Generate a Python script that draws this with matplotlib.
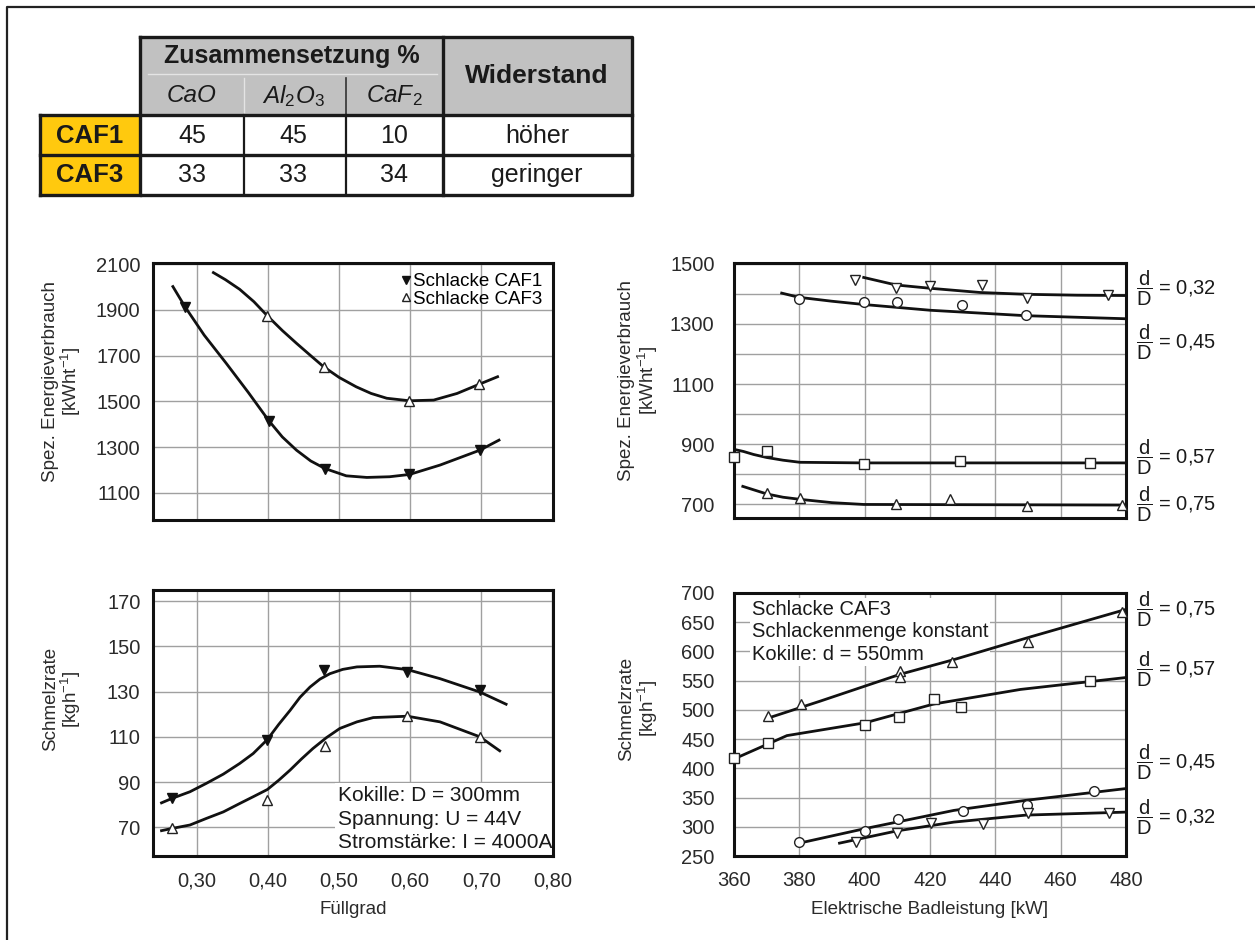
import matplotlib
matplotlib.use("Agg")
import matplotlib.pyplot as plt
import matplotlib.transforms as mtrans
from matplotlib.patches import Rectangle

plt.rcParams['font.family'] = ['Liberation Sans', 'DejaVu Sans']
plt.rcParams['mathtext.fontset'] = 'custom'
plt.rcParams['mathtext.rm'] = 'Liberation Sans'
plt.rcParams['mathtext.it'] = 'Liberation Sans:italic'
plt.rcParams['mathtext.bf'] = 'Liberation Sans:bold'

# ---------------- table data ----------------
table_group_header = "Zusammensetzung %"
table_sub_headers = ["CaO", r"Al$_2$O$_3$", r"CaF$_2$"]
table_last_header = "Widerstand"
table_rows = ["CAF1", "CAF3"]
table_CaO = [45, 33]
table_Al2O3 = [45, 33]
table_CaF2 = [10, 34]
table_widerstand = ["höher", "geringer"]

# ---------------- top-left: energy vs Füllgrad ----------------
tl_caf1_x = [0.283, 0.401, 0.480, 0.599, 0.698]
tl_caf1_y = [1914, 1416, 1207, 1181, 1287]
tl_caf3_x = [0.399, 0.478, 0.599, 0.697]
tl_caf3_y = [1874, 1652, 1503, 1575]
tl_caf1_curve_x = [0.266, 0.283, 0.310, 0.341, 0.372, 0.401, 0.420, 0.440, 0.460, 0.480, 0.510, 0.539, 0.571, 0.599, 0.642, 0.698, 0.725]
tl_caf1_curve_y = [2002, 1914, 1790, 1667, 1540, 1416, 1345, 1287, 1240, 1207, 1175, 1168, 1171, 1181, 1222, 1287, 1331]
tl_caf3_curve_x = [0.323, 0.340, 0.360, 0.380, 0.399, 0.420, 0.440, 0.460, 0.478, 0.500, 0.524, 0.545, 0.567, 0.599, 0.633, 0.666, 0.697, 0.723]
tl_caf3_curve_y = [2063, 2032, 1990, 1936, 1874, 1810, 1754, 1700, 1652, 1605, 1564, 1535, 1514, 1503, 1506, 1535, 1575, 1608]

# ---------------- bottom-left: melt rate vs Füllgrad ----------------
bl_caf1_x = [0.265, 0.399, 0.479, 0.596, 0.698]
bl_caf1_y = [82.8, 108.8, 139.7, 138.7, 130.9]
bl_caf3_x = [0.265, 0.399, 0.480, 0.596, 0.698]
bl_caf3_y = [69.5, 82.0, 105.8, 119.2, 110.0]
bl_caf1_curve_x = [0.250, 0.265, 0.290, 0.313, 0.337, 0.360, 0.379, 0.399, 0.415, 0.431, 0.445, 0.459, 0.473, 0.487, 0.505, 0.525, 0.557, 0.596, 0.642, 0.698, 0.735]
bl_caf1_curve_y = [80.8, 82.8, 85.7, 89.4, 93.5, 98.2, 102.6, 108.8, 115.5, 121.7, 127.5, 132.0, 135.5, 137.9, 139.8, 140.9, 141.2, 139.7, 135.7, 129.8, 124.4]
bl_caf3_curve_x = [0.250, 0.265, 0.290, 0.313, 0.337, 0.360, 0.379, 0.399, 0.415, 0.431, 0.447, 0.463, 0.482, 0.501, 0.525, 0.548, 0.596, 0.642, 0.698, 0.726]
bl_caf3_curve_y = [68.5, 69.5, 71.0, 73.9, 76.8, 80.5, 83.5, 86.7, 90.8, 95.3, 100.2, 104.8, 109.6, 113.7, 116.6, 118.5, 119.1, 116.6, 110.0, 103.8]

# ---------------- top-right: energy vs power, d/D series ----------------
tr_032_x = [397.1, 409.6, 420.1, 436.0, 449.6, 474.5]
tr_032_y = [1444, 1418, 1424, 1429, 1386, 1396]
tr_032_curve_x = [399.7, 409.6, 420.1, 435.4, 449.6, 465.0, 479.4]
tr_032_curve_y = [1454, 1429, 1418, 1404, 1398, 1395, 1394]
tr_045_x = [379.9, 399.9, 409.9, 429.8, 449.3]
tr_045_y = [1383, 1372, 1371, 1361, 1329]
tr_045_curve_x = [374.6, 379.9, 390.0, 399.9, 420.1, 449.3, 479.4]
tr_045_curve_y = [1402, 1388, 1375, 1364, 1345, 1327, 1317]
tr_057_x = [360.0, 370.0, 399.9, 429.3, 468.9]
tr_057_y = [859, 876, 836, 845, 839]
tr_057_curve_x = [360.0, 362.9, 366.0, 370.0, 375.0, 380.2, 399.9, 479.4]
tr_057_curve_y = [883, 876, 866, 856, 847, 840, 838, 838]
tr_075_x = [370.0, 380.2, 409.7, 426.1, 449.6, 478.9]
tr_075_y = [738, 722, 700, 717, 695, 698]
tr_075_curve_x = [362.7, 370.0, 375.0, 380.2, 390.0, 399.7, 479.4]
tr_075_curve_y = [760, 735, 724, 717, 706, 700, 698]

# ---------------- bottom-right: melt rate vs power, d/D series ----------------
br_075_x = [370.5, 380.5, 410.9, 410.9, 426.8, 450.0, 478.9]
br_075_y = [490, 510, 567, 556, 582, 617, 668]
br_075_curve_x = [371.0, 386.4, 410.9, 427.3, 450.8, 479.4]
br_075_curve_y = [487, 515, 561, 586, 625, 671]
br_057_x = [360.0, 370.3, 400.2, 410.6, 421.1, 429.5, 469.0]
br_057_y = [417, 443, 474, 487, 519, 505, 549]
br_057_curve_x = [360.0, 376.2, 400.2, 421.1, 447.7, 479.4]
br_057_curve_y = [416, 456, 478, 510, 535, 555]
br_045_x = [379.9, 400.2, 410.2, 430.1, 449.6, 470.2]
br_045_y = [274, 293, 314, 327, 337, 361]
br_045_curve_x = [380.0, 400.2, 427.3, 449.0, 479.4]
br_045_curve_y = [272, 297, 328, 345, 365]
br_032_x = [397.4, 409.9, 420.3, 436.2, 450.0, 474.8]
br_032_y = [274, 290, 307, 304, 323, 323]
br_032_curve_x = [392.3, 409.9, 427.3, 449.4, 479.4]
br_032_curve_y = [272, 293, 308, 320, 325]

# ---------------- tick labels ----------------
fuell_ticks = [0.30, 0.40, 0.50, 0.60, 0.70, 0.80]
fuell_ticklabels = ["0,30", "0,40", "0,50", "0,60", "0,70", "0,80"]
power_ticks = [360, 380, 400, 420, 440, 460, 480]
tl_yticks = [1100, 1300, 1500, 1700, 1900, 2100]
bl_yticks = [70, 90, 110, 130, 150, 170]
tr_yticks = [700, 900, 1100, 1300, 1500]
tr_yminor = [800, 1000, 1200, 1400]
br_yticks = [250, 300, 350, 400, 450, 500, 550, 600, 650, 700]
dD_labels = ["0,32", "0,45", "0,57", "0,75"]

W, H = 1255, 940
fig = plt.figure(figsize=(W / 100, H / 100), dpi=100)

def px_axes(x0, y0, x1, y1):
    return fig.add_axes([x0 / W, 1 - y1 / H, (x1 - x0) / W, (y1 - y0) / H])

TXT = '#1a1a1a'
TICK_FS = 14.5
LAB_FS = 13.5
BOX_FS = 14.5

# overlay for table / border (pixel coordinates)
ov = fig.add_axes([0, 0, 1, 1], zorder=-1)
ov.set_xlim(0, W)
ov.set_ylim(H, 0)
ov.axis('off')
ov.plot([7, 7, W + 5], [H + 5, 7, 7], color='#222222', lw=1.6, clip_on=False)

# table
ov.add_patch(Rectangle((140, 37), 632 - 140, 115 - 37, facecolor='#c1c1c1', edgecolor='none'))
ov.add_patch(Rectangle((40, 115), 100, 80, facecolor='#ffc90e', edgecolor='none'))
thick = 2.4
ov.plot([148, 437], [74, 74], color='#e4e4e4', lw=1)
ov.plot([244, 244], [78, 115], color='#e4e4e4', lw=1)
ov.plot([346, 346], [78, 115], color='#333333', lw=1.2)
ov.plot([140, 632, 632, 140, 140], [37, 37, 195, 195, 37], color=TXT, lw=thick, solid_capstyle='projecting')
ov.plot([40, 632], [115, 115], color=TXT, lw=thick)
ov.plot([40, 632], [155, 155], color=TXT, lw=thick)
ov.plot([40, 140], [195, 195], color=TXT, lw=thick)
ov.plot([40, 40], [115, 195], color=TXT, lw=thick)
ov.plot([443, 443], [37, 195], color=TXT, lw=thick)
for cx in (244, 346):
    ov.plot([cx, cx], [115, 195], color=TXT, lw=1.6)

ov.text(292, 56, table_group_header, ha='center', va='center', fontsize=18, fontweight='bold', color=TXT)
ov.text(537, 76, table_last_header, ha='center', va='center', fontsize=19, fontweight='bold', color=TXT)
sub_cx = [192, 293, 394]
for cx, s in zip(sub_cx, table_sub_headers):
    ov.text(cx, 96, s, ha='center', va='center', fontsize=17.5, style='italic', color=TXT)
row_cy = [136, 175]
for i, name in enumerate(table_rows):
    cy = row_cy[i]
    ov.text(90, cy, name, ha='center', va='center', fontsize=18.5, fontweight='bold', color=TXT)
    vals = [table_CaO[i], table_Al2O3[i], table_CaF2[i]]
    for cx, v in zip(sub_cx, vals):
        ov.text(cx, cy, str(v), ha='center', va='center', fontsize=18, color=TXT)
    ov.text(537, cy, table_widerstand[i], ha='center', va='center', fontsize=18, color=TXT)

# ---------------- axes ----------------
ax_tl = px_axes(153, 263, 553, 520)
ax_bl = px_axes(153, 590, 553, 856)
ax_tr = px_axes(734, 263, 1126, 518)
ax_br = px_axes(734, 593, 1126, 856)

def style(ax):
    for s in ax.spines.values():
        s.set_linewidth(2.2)
        s.set_color('#111111')
    ax.tick_params(which='both', length=0, labelsize=TICK_FS, labelcolor='#2a2a2a')
    ax.tick_params(axis='y', pad=9)
    ax.tick_params(axis='x', pad=11)
    ax.grid(True, which='both', color='#a0a0a0', lw=1.0, zorder=0.5)
    ax.set_axisbelow(True)

for ax in (ax_tl, ax_bl, ax_tr, ax_br):
    style(ax)

lk = dict(color='#111111', lw=2.0, zorder=3)
open_kw = dict(ls='none', mfc='white', mec='#222222', mew=1.0, ms=7, zorder=4)

# top-left
ax_tl.set_xlim(0.238, 0.801)
ax_tl.set_ylim(982, 2105)
ax_tl.set_xticks(fuell_ticks[:-1])
ax_tl.set_xticklabels([])
ax_tl.set_yticks(tl_yticks)
ax_tl.plot(tl_caf1_curve_x, tl_caf1_curve_y, **lk)
ax_tl.plot(tl_caf3_curve_x, tl_caf3_curve_y, **lk)
h1, = ax_tl.plot(tl_caf1_x, tl_caf1_y, ls='none', marker='v', color='#111111', ms=7, zorder=4, label='Schlacke CAF1')
h3, = ax_tl.plot(tl_caf3_x, tl_caf3_y, marker='^', label='Schlacke CAF3', **open_kw)
ax_tl.legend(handles=[h1, h3], loc='upper right', frameon=False, fontsize=13.5,
             handlelength=0.5, handletextpad=0.15, labelspacing=0.0,
             borderaxespad=0.15, markerscale=0.75)
ax_tl.set_ylabel("Spez. Energieverbrauch\n[kWht$^{-1}$]", fontsize=LAB_FS, color='#2a2a2a', linespacing=1.0)
ax_tl.yaxis.set_label_coords(-0.175, 0.54)

# bottom-left
ax_bl.set_xlim(0.238, 0.801)
ax_bl.set_ylim(57.3, 174.9)
ax_bl.set_xticks(fuell_ticks)
ax_bl.set_xticklabels(fuell_ticklabels)
ax_bl.set_yticks(bl_yticks)
ax_bl.plot(bl_caf1_curve_x, bl_caf1_curve_y, **lk)
ax_bl.plot(bl_caf3_curve_x, bl_caf3_curve_y, **lk)
ax_bl.plot(bl_caf1_x, bl_caf1_y, ls='none', marker='v', color='#111111', ms=7, zorder=4)
ax_bl.plot(bl_caf3_x, bl_caf3_y, marker='^', **open_kw)
ax_bl.text(0.462, 0.015, "Kokille: D = 300mm\nSpannung: U = 44V\nStromstärke: I = 4000A",
           transform=ax_bl.transAxes, ha='left', va='bottom', fontsize=BOX_FS + 0.5, color=TXT,
           linespacing=1.3, zorder=1,
           bbox=dict(boxstyle='square,pad=0.15', facecolor='white', edgecolor='none'))
ax_bl.set_ylabel("Schmelzrate\n[kgh$^{-1}$]", fontsize=LAB_FS, color='#2a2a2a', linespacing=1.0)
ax_bl.yaxis.set_label_coords(-0.175, 0.59)
ax_bl.set_xlabel("Füllgrad", fontsize=LAB_FS, color='#2a2a2a', labelpad=8)

# top-right
ax_tr.set_xlim(360, 480)
ax_tr.set_ylim(655, 1502)
ax_tr.set_xticks(power_ticks)
ax_tr.set_xticklabels([])
ax_tr.set_yticks(tr_yticks)
ax_tr.set_yticks(tr_yminor, minor=True)
ax_tr.tick_params(axis='y', pad=14)
for cx, cy in [(tr_032_curve_x, tr_032_curve_y), (tr_045_curve_x, tr_045_curve_y),
               (tr_057_curve_x, tr_057_curve_y), (tr_075_curve_x, tr_075_curve_y)]:
    ax_tr.plot(cx, cy, **lk)
ax_tr.plot(tr_032_x, tr_032_y, marker='v', clip_on=False, **open_kw)
ax_tr.plot(tr_045_x, tr_045_y, marker='o', clip_on=False, **open_kw)
ax_tr.plot(tr_057_x, tr_057_y, marker='s', clip_on=False, **open_kw)
ax_tr.plot(tr_075_x, tr_075_y, marker='^', clip_on=False, **open_kw)
ax_tr.set_ylabel("Spez. Energieverbrauch\n[kWht$^{-1}$]", fontsize=LAB_FS, color='#2a2a2a', linespacing=1.0)
ax_tr.yaxis.set_label_coords(-0.19, 0.54)

# bottom-right
ax_br.set_xlim(360, 480)
ax_br.set_ylim(250, 700)
ax_br.set_xticks(power_ticks)
ax_br.set_yticks(br_yticks)
ax_br.tick_params(axis='y', pad=14)
for cx, cy in [(br_075_curve_x, br_075_curve_y), (br_057_curve_x, br_057_curve_y),
               (br_045_curve_x, br_045_curve_y), (br_032_curve_x, br_032_curve_y)]:
    ax_br.plot(cx, cy, **lk)
ax_br.plot(br_075_x, br_075_y, marker='^', clip_on=False, **open_kw)
ax_br.plot(br_057_x, br_057_y, marker='s', clip_on=False, **open_kw)
ax_br.plot(br_045_x, br_045_y, marker='o', clip_on=False, **open_kw)
ax_br.plot(br_032_x, br_032_y, marker='v', clip_on=False, **open_kw)
ax_br.text(0.045, 0.975, "Schlacke CAF3\nSchlackenmenge konstant\nKokille: d = 550mm",
           transform=ax_br.transAxes, ha='left', va='top', fontsize=BOX_FS, color=TXT,
           linespacing=1.25, zorder=1,
           bbox=dict(boxstyle='square,pad=0.1', facecolor='white', edgecolor='none'))
ax_br.set_ylabel("Schmelzrate\n[kgh$^{-1}$]", fontsize=LAB_FS, color='#2a2a2a', linespacing=1.0)
ax_br.yaxis.set_label_coords(-0.19, 0.56)
ax_br.set_xlabel("Elektrische Badleistung [kW]", fontsize=LAB_FS, color='#2a2a2a', labelpad=8)

# d/D labels
def dD(ax, y, lab):
    tr = mtrans.blended_transform_factory(ax.transAxes, ax.transData)
    ax.text(1.025, y, r"$\dfrac{\mathrm{d}}{\mathrm{D}}$ = " + lab, transform=tr,
            ha='left', va='center', fontsize=14.5, color=TXT, clip_on=False)

for y, lab in zip([1418, 1237, 856, 701], dD_labels):
    dD(ax_tr, y, lab)
for y, lab in zip([316, 410, 570, 672], dD_labels):
    dD(ax_br, y, lab)

fig.savefig("out.png", dpi=100)
